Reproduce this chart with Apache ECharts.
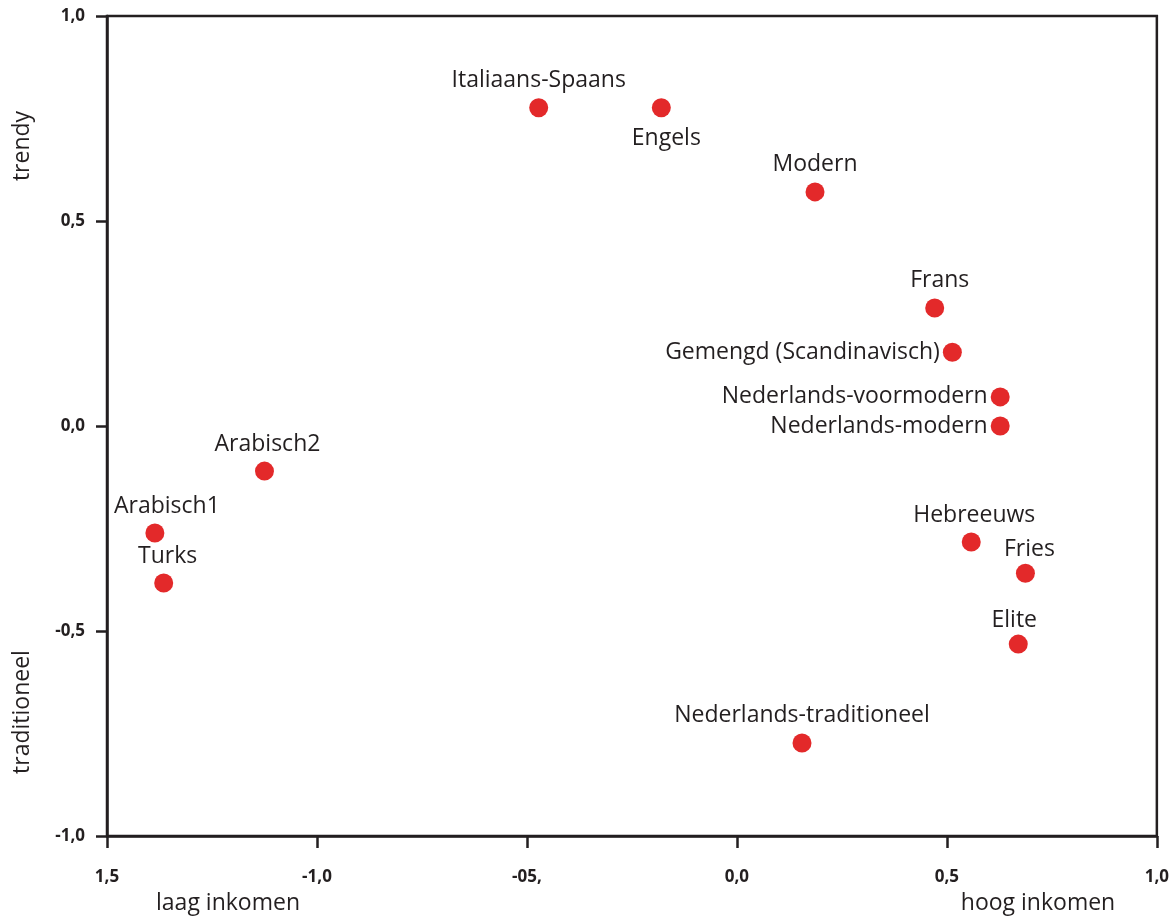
<!DOCTYPE html>
<html>
<head>
<meta charset="utf-8">
<script src="https://cdn.jsdelivr.net/npm/echarts@6/dist/echarts.min.js"></script>
<style>
html,body{margin:0;padding:0;background:#fff;}
#chart{width:1172px;height:920px;}
</style>
</head>
<body>
<div id="chart"></div>
<script>
const names = ['Italiaans-Spaans','Engels','Modern','Frans','Gemengd (Scandinavisch)','Nederlands-voormodern','Nederlands-modern','Arabisch2','Arabisch1','Turks','Hebreeuws','Fries','Elite','Nederlands-traditioneel'];
const xValues = [-0.472,-0.180,0.186,0.471,0.513,0.627,0.627,-1.125,-1.386,-1.365,0.558,0.687,0.670,0.155];
const yValues = [0.776,0.776,0.571,0.288,0.180,0.071,0.000,-0.110,-0.261,-0.383,-0.283,-0.359,-0.532,-0.773];
const labelPos = ['top','bottom','top','top','left','left','left','top','top','top','top','top','top','top'];
const xTickLabels = {'-1.5':'1,5','-1':'-1,0','-0.5':'-05,','0':'0,0','0.5':'0,5','1':'1,0'};
const yTickLabels = {'-1':'-1,0','-0.5':'-0,5','0':'0,0','0.5':'0,5','1':'1,0'};
const axisTitles = {trendy:'trendy', traditioneel:'traditioneel', laag:'laag inkomen', hoog:'hoog inkomen'};

const FONT = 'Open Sans';
const labelOffsets = {
  'Arabisch1':[12,0], 'Turks':[4,0], 'Frans':[5,0], 'Engels':[5,4], 'Fries':[4,3], 'Elite':[-4,3], 'Arabisch2':[3,0], 'Hebreeuws':[3,0]
};
const data = names.map((n,i)=>({
  value:[xValues[i], yValues[i]],
  name:n,
  label:{position:labelPos[i], distance: labelPos[i]==='left'?3:6, offset: labelOffsets[n]||[0,0]}
}));

const chart = echarts.init(document.getElementById('chart'), null, {renderer:'canvas'});
chart.setOption({
  backgroundColor:'#fff',
  animation:false,
  grid:{left:107, right:12, top:16, bottom:84, show:true, borderColor:'#231f20', borderWidth:2.5},
  xAxis:{
    type:'value', min:-1.5, max:1.0, interval:0.5,
    axisLine:{show:true, onZero:false, lineStyle:{color:'#231f20', width:2.5}},
    axisTick:{show:true, length:12, lineStyle:{color:'#231f20', width:2.5}},
    splitLine:{show:false},
    axisLabel:{margin:33, color:'#231f20', fontFamily:FONT, fontSize:17, fontWeight:'bold',
      formatter:v=>xTickLabels[String(Math.round(v*10)/10)] ?? ''}
  },
  yAxis:{
    type:'value', min:-1.0, max:1.0, interval:0.5,
    axisLine:{show:true, onZero:false, lineStyle:{color:'#231f20', width:2.5}},
    axisTick:{show:true, length:11, lineStyle:{color:'#231f20', width:2.5}},
    splitLine:{show:false},
    axisLabel:{margin:22, color:'#231f20', fontFamily:FONT, fontSize:17, fontWeight:'bold',
      formatter:v=>yTickLabels[String(Math.round(v*10)/10)] ?? ''}
  },
  series:[{
    type:'scatter',
    symbolSize:19,
    itemStyle:{color:'#e3292a', opacity:1},
    label:{show:true, formatter:'{b}', color:'#231f20', fontFamily:FONT, fontSize:23},
    data:data
  }],
  graphic:[
    {type:'text', x:22, y:146, rotation:Math.PI/2, style:{text:axisTitles.trendy, fill:'#231f20', font:'23px "Open Sans"', align:'center', verticalAlign:'middle'}},
    {type:'text', x:22, y:712, rotation:Math.PI/2, style:{text:axisTitles.traditioneel, fill:'#231f20', font:'23px "Open Sans"', align:'center', verticalAlign:'middle'}},
    {type:'text', x:228, y:903, style:{text:axisTitles.laag, fill:'#231f20', font:'23px "Open Sans"', align:'center', verticalAlign:'middle'}},
    {type:'text', x:1038, y:903, style:{text:axisTitles.hoog, fill:'#231f20', font:'23px "Open Sans"', align:'center', verticalAlign:'middle'}}
  ]
});
</script>
</body>
</html>
